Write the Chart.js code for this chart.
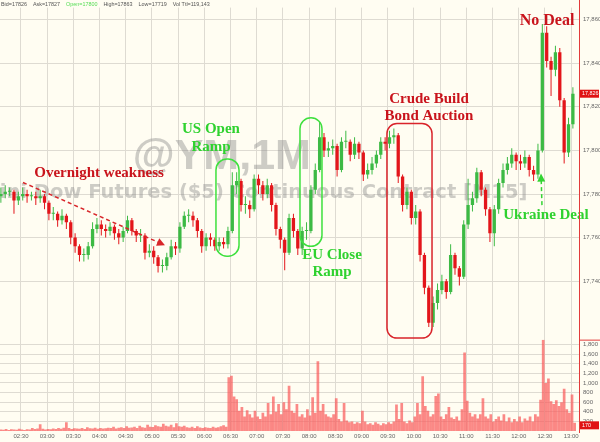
<!DOCTYPE html>
<html>
<head>
<meta charset="utf-8">
<script src="https://cdn.jsdelivr.net/npm/chart.js@4"></script>
<style>
  html, body { margin: 0; padding: 0; background: #fffdf2; }
  #wrap { width: 600px; height: 442px; }
</style>
</head>
<body>
<div id="wrap"><canvas id="chart" width="600" height="442"></canvas></div>
<script>
// 5 minute candles from 02:07, opens follow the previous close
const candleStart = 127;
const candleStep = 5;
const firstOpen = 17779;
const closes = [
  17780,17781,17781,17777,17779,17780,17779,17779,17778,17779,
  17776,17771,17771,17768,17770,17767,17760,17756,17752,17752,
  17756,17764,17766,17764,17763,17765,17762,17760,17763,17768,
  17763,17761,17761,17753,17754,17751,17747,17747,17751,17756,
  17755,17765,17770,17770,17768,17763,17756,17760,17759,17756,
  17758,17757,17763,17784,17786,17775,17775,17773,17787,17784,
  17780,17784,17775,17764,17759,17753,17769,17763,17755,17763,
  17763,17782,17791,17806,17800,17801,17802,17791,17804,17804,
  17798,17803,17799,17789,17791,17794,17798,17804,17803,17806,
  17807,17788,17775,17781,17769,17772,17752,17737,17721,17730,
  17736,17740,17735,17752,17746,17742,17766,17775,17778,17790,
  17782,17773,17762,17773,17785,17791,17794,17798,17795,17794,
  17797,17791,17789,17800,17854,17841,17837,17845,17823,17799,
  17812,17826
];
const highs = [
  17783,17784,17783,17782,17781,17783,17782,17781,17781,17782,
  17780,17777,17774,17772,17773,17771,17768,17762,17757,17755,
  17758,17767,17769,17768,17766,17767,17766,17764,17765,17770,
  17769,17764,17764,17762,17757,17756,17752,17750,17753,17759,
  17758,17767,17772,17773,17772,17769,17764,17762,17762,17760,
  17760,17760,17765,17790,17790,17787,17779,17777,17789,17789,
  17786,17787,17785,17776,17765,17760,17771,17771,17764,17765,
  17767,17784,17794,17813,17808,17804,17805,17803,17806,17809,
  17805,17806,17804,17800,17794,17797,17800,17806,17806,17809,
  17810,17808,17789,17783,17782,17775,17773,17753,17738,17733,
  17739,17743,17741,17757,17753,17747,17768,17787,17781,17792,
  17791,17783,17774,17775,17787,17794,17797,17801,17799,17798,
  17800,17798,17793,17803,17858,17857,17843,17848,17847,17824,
  17815,17829
];
const lows = [
  17776,17778,17779,17771,17775,17777,17776,17777,17775,17776,
  17773,17768,17768,17765,17766,17764,17757,17753,17749,17749,
  17750,17755,17762,17761,17760,17761,17759,17757,17758,17762,
  17761,17758,17758,17750,17751,17748,17744,17744,17745,17750,
  17752,17753,17764,17767,17765,17760,17753,17754,17756,17754,
  17754,17755,17755,17762,17780,17772,17771,17769,17772,17780,
  17777,17778,17772,17761,17755,17745,17752,17760,17752,17752,
  17759,17762,17780,17790,17797,17797,17798,17788,17790,17801,
  17795,17796,17796,17786,17787,17789,17792,17796,17800,17801,
  17803,17785,17772,17773,17766,17766,17749,17734,17719,17719,
  17727,17734,17732,17734,17743,17738,17741,17764,17772,17776,
  17779,17770,17758,17756,17771,17783,17789,17792,17791,17791,
  17792,17788,17786,17787,17799,17838,17825,17834,17820,17794,
  17797,17810
];

// volume, one value every 3 minutes from 02:07
const volStart = 127;
const volStep = 3;
const volumes = [
  30,25,40,20,35,30,25,45,30,20,
  35,30,60,40,50,140,45,30,40,35,
  50,40,60,45,70,180,60,40,55,50,
  45,60,40,80,55,50,70,45,60,50,
  55,70,60,90,50,65,80,60,100,70,
  75,90,60,110,80,70,130,90,85,120,
  100,90,150,110,95,130,80,160,100,90,
  110,80,70,90,60,100,75,60,80,70,
  60,90,70,80,100,120,90,1120,1150,720,
  660,420,500,300,430,350,280,420,300,250,
  380,300,580,350,720,400,560,350,600,450,
  940,420,380,560,300,350,280,450,320,700,
  380,1450,420,560,350,300,280,350,680,250,
  200,580,220,180,200,150,180,160,420,200,
  140,160,130,180,150,120,160,140,180,150,
  200,550,250,580,200,160,220,180,300,580,
  350,1140,520,420,300,350,730,780,300,250,
  350,500,280,250,300,220,450,1630,630,380,
  300,350,260,350,680,300,260,350,200,250,
  300,220,350,200,280,180,250,200,300,180,
  260,220,300,200,350,300,650,1900,1000,1090,
  620,560,640,520,600,880,450,380,760,170
];

const priceTicks = [17740, 17760, 17780, 17800, 17820, 17840, 17860];
const volumeTicks = [200, 400, 600, 800, 1000, 1200, 1400, 1600, 1800];
const timeLabels = ['02:30','03:00','03:30','04:00','04:30','05:00','05:30','06:00','06:30','07:00','07:30',
  '08:00','08:30','09:00','09:30','10:00','10:30','11:00','11:30','12:00','12:30','13:00'];

const headerParts = ['Bid=17826', 'Ask=17827', 'Open=17800', 'High=17863', 'Low=17719', 'Vol Ttl=119,143'];
const lastPrice = 17826;
const lastVolume = 170;

const BG = '#fffdf2';
const GRID = '#dedbd2';
const UP = '#3dba45';
const DOWN = '#e3161b';
const RED_TXT = '#c9141c';
const GREEN_TXT = '#2fd22f';

const toMinutes = s => { const [h, m] = s.split(':').map(Number); return h * 60 + m; };
const opens = closes.map((c, i) => i === 0 ? firstOpen : closes[i - 1]);
const times = closes.map((_, i) => candleStart + i * candleStep);
const colorOf = i => (closes[i] >= opens[i] ? UP : DOWN);
const fmt = v => v.toLocaleString('en-US');

function roundRect(ctx, x0, y0, x1, y1, r) {
  ctx.beginPath();
  ctx.moveTo(x0 + r, y0);
  ctx.arcTo(x1, y0, x1, y1, r);
  ctx.arcTo(x1, y1, x0, y1, r);
  ctx.arcTo(x0, y1, x0, y0, r);
  ctx.arcTo(x0, y0, x1, y0, r);
  ctx.closePath();
  ctx.stroke();
}

function arrow(ctx, x0, y0, x1, y1, color) {
  const a = Math.atan2(y1 - y0, x1 - x0);
  ctx.save();
  ctx.strokeStyle = color;
  ctx.fillStyle = color;
  ctx.lineWidth = 1.5;
  ctx.setLineDash([4, 3]);
  ctx.beginPath();
  ctx.moveTo(x0, y0);
  ctx.lineTo(x1 - 5 * Math.cos(a), y1 - 5 * Math.sin(a));
  ctx.stroke();
  ctx.setLineDash([]);
  ctx.beginPath();
  ctx.moveTo(x1, y1);
  ctx.lineTo(x1 - 8 * Math.cos(a) + 4 * Math.sin(a), y1 - 8 * Math.sin(a) - 4 * Math.cos(a));
  ctx.lineTo(x1 - 8 * Math.cos(a) - 4 * Math.sin(a), y1 - 8 * Math.sin(a) + 4 * Math.cos(a));
  ctx.closePath();
  ctx.fill();
  ctx.restore();
}

const decor = {
  id: 'decor',
  beforeDraw(chart) {
    const ctx = chart.ctx;
    ctx.save();
    ctx.fillStyle = BG;
    ctx.fillRect(0, 0, chart.width, chart.height);
    ctx.restore();
  },
  beforeDatasetsDraw(chart) {
    const ctx = chart.ctx, xs = chart.scales.x, ys = chart.scales.y;
    ctx.save();
    ctx.fillStyle = 'rgba(135,135,135,0.42)';
    ctx.textBaseline = 'middle';
    ctx.textAlign = 'center';
    ctx.font = 'bold 43px "Liberation Sans", Arial, sans-serif';
    ctx.fillText('@YM,1M', xs.getPixelForValue(380), ys.getPixelForValue(17797));
    ctx.font = 'bold 19.5px "DejaVu Sans", sans-serif';
    ctx.textAlign = 'left';
    const lead = ctx.measureText('Mini Dow ').width;
    ctx.fillText('Mini Dow Futures ($5) Continuous Contract [M15]',
      xs.getPixelForValue(227) - lead, ys.getPixelForValue(17780.3));
    ctx.restore();
  },
  afterDatasetsDraw(chart) {
    const ctx = chart.ctx, xs = chart.scales.x, ys = chart.scales.y;
    const X = t => xs.getPixelForValue(t), Y = p => ys.getPixelForValue(p);
    ctx.save();
    ctx.textAlign = 'center';
    ctx.textBaseline = 'middle';
    ctx.font = 'bold 15px "Liberation Serif", "Times New Roman", serif';
    const label = (txt, t, p, color) => { ctx.fillStyle = color; ctx.fillText(txt, X(t), Y(p)); };

    label('Overnight weakness', 239.4, 17789.8, RED_TXT);
    arrow(ctx, X(152.3), Y(17785.3), X(314.9), Y(17756.5), '#d8262a');

    label('US Open', 367.6, 17809.6, GREEN_TXT);
    label('Ramp', 367.6, 17801.5, GREEN_TXT);
    label('EU Close', 506.2, 17752.0, GREEN_TXT);
    label('Ramp', 506.2, 17744.3, GREEN_TXT);
    label('Crude Build', 617.2, 17823.6, RED_TXT);
    label('Bond Auction', 617.2, 17815.9, RED_TXT);
    ctx.font = 'bold 16px "Liberation Serif", "Times New Roman", serif';
    label('No Deal', 752.4, 17859.6, RED_TXT);
    ctx.font = 'bold 15px "Liberation Serif", "Times New Roman", serif';
    label('Ukraine Deal', 751.2, 17770.4, GREEN_TXT);

    ctx.lineWidth = 1.5;
    ctx.strokeStyle = '#3ee03e';
    roundRect(ctx, X(373.3), Y(17796.1), X(399.7), Y(17751.5), 11);
    roundRect(ctx, X(469.5), Y(17815.0), X(494.7), Y(17756.0), 11);
    ctx.strokeStyle = '#d9232a';
    roundRect(ctx, X(569.1), Y(17812.3), X(620.7), Y(17713.9), 10);

    arrow(ctx, X(746.6), Y(17774.9), X(745.5), Y(17789.4), '#33d433');
    ctx.restore();
  },
  afterDraw(chart) {
    const ctx = chart.ctx, ys = chart.scales.y, yv = chart.scales.yVol;
    const right = chart.chartArea.right;
    ctx.save();
    // header line, laid out one part after another
    ctx.font = '5.4px "Liberation Sans", Arial, sans-serif';
    ctx.textBaseline = 'middle';
    ctx.textAlign = 'left';
    let hx = 1;
    headerParts.forEach(txt => {
      ctx.fillStyle = txt.startsWith('Open') ? '#55dd55' : '#555';
      ctx.fillText(txt, hx, 4.5);
      hx += ctx.measureText(txt).width + 6;
    });
    // axis frame lines
    ctx.strokeStyle = '#e23a3a';
    ctx.lineWidth = 1;
    ctx.beginPath();
    ctx.moveTo(right + 0.5, 0);
    ctx.lineTo(right + 0.5, chart.chartArea.bottom + 2);
    ctx.moveTo(right, yv.top + 0.5);
    ctx.lineTo(chart.width, yv.top + 0.5);
    ctx.stroke();
    // last value tags
    const tag = (txt, y) => {
      ctx.fillStyle = '#e01414';
      ctx.fillRect(right + 1, y - 4, chart.width - right - 2, 8);
      ctx.fillStyle = '#fff';
      ctx.fillText(txt, right + 3, y);
    };
    tag(fmt(lastPrice), ys.getPixelForValue(lastPrice));
    tag(fmt(lastVolume), yv.getPixelForValue(lastVolume) + 2.5);
    ctx.restore();
  }
};

const tickFont = { family: '"Liberation Sans", Arial, sans-serif', size: 6 };

new Chart(document.getElementById('chart'), {
  type: 'bar',
  data: {
    datasets: [
      {
        label: 'Volume',
        yAxisID: 'yVol',
        stack: 's',
        data: volumes.map((v, j) => ({ x: volStart + j * volStep, y: v })),
        backgroundColor: 'rgba(249,92,92,0.72)',
        barThickness: 2.7,
        inflateAmount: 0
      },
      {
        label: 'Range',
        yAxisID: 'y',
        stack: 's',
        data: times.map((t, i) => ({ x: t, y: [lows[i], highs[i]] })),
        backgroundColor: ctx => colorOf(ctx.dataIndex),
        barThickness: 1,
        inflateAmount: 0
      },
      {
        label: 'Body',
        yAxisID: 'y',
        stack: 's',
        data: times.map((t, i) => ({ x: t, y: [opens[i], closes[i]] })),
        backgroundColor: ctx => colorOf(ctx.dataIndex),
        barThickness: 3.3,
        minBarLength: 1,
        inflateAmount: 0
      }
    ]
  },
  options: {
    responsive: false,
    devicePixelRatio: 1,
    animation: false,
    events: [],
    layout: { padding: 0 },
    plugins: { legend: { display: false }, tooltip: { enabled: false } },
    scales: {
      y: {
        type: 'linear', position: 'right', stack: 'panels', stackWeight: 338,
        min: 17713.2, max: 17865.5, stacked: false,
        grid: { color: GRID, drawTicks: false },
        border: { display: false },
        ticks: { font: tickFont, color: '#666', padding: 4, autoSkip: false, callback: v => fmt(v) },
        afterBuildTicks: s => { s.ticks = priceTicks.map(v => ({ value: v })); },
        afterFit: s => { s.width = 21; }
      },
      yVol: {
        type: 'linear', position: 'right', stack: 'panels', stackWeight: 93,
        min: 0, max: 1900, stacked: false,
        grid: { color: GRID, drawTicks: false },
        border: { display: false },
        ticks: { font: tickFont, color: '#666', padding: 4, autoSkip: false, callback: v => fmt(v) },
        afterBuildTicks: s => { s.ticks = volumeTicks.map(v => ({ value: v })); },
        afterFit: s => { s.width = 21; }
      },
      x: {
        type: 'linear', min: 126, max: 789, offset: false,
        grid: { color: GRID, drawTicks: false, offset: false },
        border: { display: false },
        ticks: {
          font: tickFont, color: '#666', padding: 2, autoSkip: false, maxRotation: 0,
          callback: v => timeLabels.find(l => toMinutes(l) === v) || ''
        },
        afterBuildTicks: s => { s.ticks = timeLabels.map(l => ({ value: toMinutes(l) })); },
        afterFit: s => { s.height = 11; }
      }
    }
  },
  plugins: [decor]
});
</script>
</body>
</html>
